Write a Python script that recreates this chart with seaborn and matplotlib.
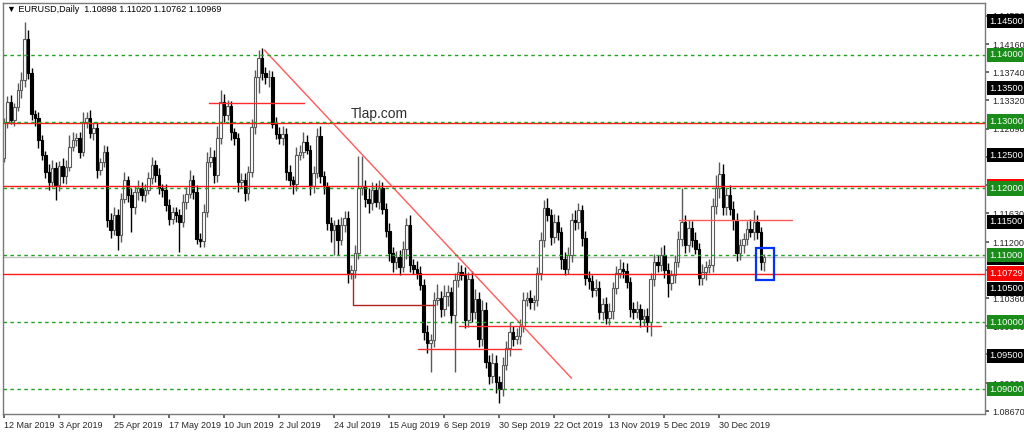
import matplotlib
matplotlib.use("Agg")
import matplotlib.pyplot as plt
import matplotlib.transforms as mtransforms
import numpy as np
import pandas as pd
import seaborn as sns

# daily closes, 12 Mar 2019 onwards
closes = [
    1.1300, 1.1330, 1.1302, 1.1322, 1.1347, 1.1362, 1.1424, 1.1372, 1.1312, 1.1305,
    1.1272, 1.1250, 1.1225, 1.1210, 1.1230, 1.1205, 1.1233, 1.1218, 1.1232, 1.1262,
    1.1272, 1.1275, 1.1255, 1.1300, 1.1305, 1.1283, 1.1290, 1.1228, 1.1240, 1.1255,
    1.1153, 1.1138, 1.1160, 1.1130, 1.1185, 1.1213, 1.1190, 1.1172, 1.1195, 1.1200,
    1.1190, 1.1198, 1.1215, 1.1235, 1.1220, 1.1200, 1.1198, 1.1175, 1.1155, 1.1165,
    1.1160, 1.1150, 1.1180, 1.1192, 1.1212, 1.1195, 1.1125, 1.1122, 1.1165, 1.1240,
    1.1247, 1.1220, 1.1275, 1.1330, 1.1310, 1.1323, 1.1285, 1.1275, 1.1210, 1.1213,
    1.1193, 1.1225, 1.1292, 1.1367, 1.1395, 1.1372, 1.1366, 1.1367, 1.1297, 1.1282,
    1.1275, 1.1282, 1.1225, 1.1213, 1.1207, 1.1250, 1.1255, 1.1270, 1.1257, 1.1203,
    1.1223, 1.1278, 1.1218, 1.1204, 1.1148, 1.1138, 1.1145, 1.1123, 1.1145, 1.1156,
    1.1074, 1.1078, 1.1103, 1.1200, 1.1203, 1.1185, 1.1178, 1.1198, 1.1180, 1.1200,
    1.1170, 1.1137, 1.1103, 1.1090, 1.1098, 1.1083, 1.1110, 1.1146, 1.1085, 1.1080,
    1.1074, 1.1056, 1.0986, 1.0969, 1.0973, 1.1034, 1.1037, 1.1020, 1.1040, 1.1045,
    1.1011, 1.1063, 1.1075, 1.1071, 1.1003, 1.1065, 1.1015, 1.1035, 1.0975, 1.1018,
    1.0941, 1.0919, 1.0939, 1.0910, 1.0900, 1.0936, 1.0962, 1.0985, 1.0975, 1.0980,
    1.0995, 1.1033, 1.1036, 1.1030, 1.1033, 1.1073, 1.1123, 1.1171, 1.1160, 1.1128,
    1.1150, 1.1135, 1.1095, 1.1080, 1.1100, 1.1153, 1.1150, 1.1168, 1.1126, 1.1066,
    1.1062, 1.1048, 1.1052, 1.1015, 1.1028, 1.1006, 1.1017, 1.1052, 1.1074, 1.1080,
    1.1076, 1.1060, 1.1020, 1.1015, 1.1020, 1.1005, 1.1010, 1.1000, 1.1064, 1.1090,
    1.1085, 1.1100, 1.1078, 1.1059, 1.1070, 1.1090, 1.1124, 1.1150, 1.1115, 1.1141,
    1.1123, 1.1110, 1.1066, 1.1075, 1.1082, 1.1085, 1.1174, 1.1201, 1.1222, 1.1172,
    1.1190, 1.1170, 1.1153, 1.1103, 1.1115, 1.1125, 1.1140, 1.1135, 1.1150, 1.1135,
    1.1090, 1.10969,
]
first_open = 1.1245

# wick lengths above / below the body, in pips
upper_wick = [
    5, 8, 10, 6, 10, 12, 25, 13, 8, 6,
    10, 8, 6, 12, 12, 10, 8, 12, 10, 18,
    12, 8, 10, 15, 10, 12, 8, 10, 6, 10,
    8, 10, 12, 10, 8, 12, 6, 10, 8, 12,
    10, 8, 10, 12, 8, 10, 6, 8, 10, 8,
    8, 10, 12, 10, 15, 8, 10, 8, 12, 15,
    15, 10, 18, 17, 12, 10, 8, 6, 8, 10,
    10, 8, 12, 10, 12, 15, 10, 10, 8, 10,
    10, 12, 8, 10, 6, 12, 10, 15, 10, 8,
    10, 12, 15, 8, 6, 10, 8, 10, 12, 10,
    10, 8, 12, 48, 45, 10, 15, 12, 10, 12,
    10, 8, 12, 10, 8, 10, 12, 10, 15, 10,
    12, 10, 8, 10, 10, 12, 20, 10, 15, 10,
    8, 10, 15, 10, 12, 10, 12, 15, 10, 15,
    12, 10, 15, 12, 10, 12, 10, 15, 10, 12,
    10, 12, 10, 12, 8, 10, 12, 12, 15, 10,
    12, 10, 8, 10, 12, 10, 15, 10, 8, 10,
    10, 8, 12, 10, 8, 10, 12, 8, 10, 15,
    10, 12, 8, 10, 12, 8, 10, 12, 10, 12,
    10, 12, 15, 10, 8, 10, 12, 50, 10, 12,
    10, 12, 8, 12, 10, 10, 12, 19, 17, 15,
    10, 15, 12, 10, 10, 8, 12, 15, 18, 10,
    8, 5,
]
lower_wick = [
    5, 10, 6, 8, 6, 12, 10, 8, 10, 12,
    12, 8, 10, 12, 8, 22, 8, 10, 12, 6,
    6, 8, 10, 6, 10, 8, 10, 12, 8, 8,
    10, 12, 8, 22, 10, 6, 10, 37, 10, 12,
    8, 10, 6, 8, 10, 8, 10, 8, 10, 8,
    10, 45, 8, 10, 6, 10, 8, 10, 10, 8,
    8, 12, 10, 8, 10, 8, 12, 10, 15, 10,
    12, 10, 8, 10, 24, 10, 10, 15, 6, 8,
    8, 10, 12, 10, 15, 10, 8, 10, 6, 12,
    10, 8, 10, 12, 10, 18, 38, 22, 8, 10,
    15, 10, 12, 8, 10, 12, 15, 10, 8, 10,
    8, 10, 12, 15, 10, 12, 8, 15, 10, 8,
    10, 8, 12, 15, 44, 10, 8, 12, 10, 15,
    12, 85, 10, 8, 12, 10, 15, 10, 12, 10,
    10, 12, 10, 15, 21, 10, 8, 12, 10, 8,
    12, 10, 8, 10, 12, 8, 10, 10, 8, 12,
    10, 12, 15, 10, 8, 10, 12, 10, 12, 10,
    12, 10, 8, 10, 12, 8, 10, 12, 10, 8,
    10, 8, 12, 10, 8, 12, 10, 15, 20, 10,
    10, 8, 12, 21, 10, 12, 8, 10, 12, 10,
    10, 8, 11, 10, 12, 8, 10, 12, 15, 12,
    12, 10, 15, 12, 10, 12, 10, 8, 12, 10,
    12, 14,
]

date_positions = [0, 16, 32, 48, 64, 80, 96, 112, 128, 144, 160, 176, 192, 208]
date_labels = ["12 Mar 2019", "3 Apr 2019", "25 Apr 2019", "17 May 2019", "10 Jun 2019",
               "2 Jul 2019", "24 Jul 2019", "15 Aug 2019", "6 Sep 2019", "30 Sep 2019",
               "22 Oct 2019", "13 Nov 2019", "5 Dec 2019", "30 Dec 2019"]

price_ticks = [1.14580, 1.14160, 1.13740, 1.13320, 1.12890, 1.12470, 1.12050, 1.11630,
               1.11200, 1.10780, 1.10360, 1.09940, 1.09520, 1.09090, 1.08670]

green_levels = [1.14, 1.13, 1.12, 1.11, 1.10, 1.09]
red_levels = [1.12985, 1.12033, 1.10729]
current_price = 1.10969

# right-hand price tags: (value, background)
price_tags = [(1.14500, "black"), (1.14000, "#1a8c1a"), (1.13500, "black"),
              (1.13000, "#1a8c1a"), (1.12500, "black"), (1.12033, "red"),
              (1.12000, "#1a8c1a"), (1.11500, "black"), (1.10969, "black"),
              (1.11000, "#1a8c1a"), (1.10729, "red"), (1.10500, "black"),
              (1.10000, "#1a8c1a"), (1.09500, "black"), (1.09000, "#1a8c1a")]

df = pd.DataFrame({"close": closes})
df["open"] = [first_open] + closes[:-1]
df["high"] = df[["open", "close"]].max(axis=1) + np.array(upper_wick) / 10000
df["low"] = df[["open", "close"]].min(axis=1) - np.array(lower_wick) / 10000
df["x"] = np.arange(len(df))
df["bull"] = df["close"] >= df["open"]

sns.set_theme(style="white")
plt.rcParams["font.family"] = ["Liberation Sans", "DejaVu Sans"]

fig = plt.figure(figsize=(10.24, 4.32), dpi=100)
ax = fig.add_axes([3 / 1024, 18 / 432, 982 / 1024, 411 / 432])

# level lines
ax.axhline(current_price, color="#c4c4c4", lw=1, zorder=1)
for lv in red_levels:
    ax.axhline(lv, color="#ff1a1a", lw=1, zorder=3)
for lv in green_levels:
    ax.axhline(lv, color="#22a022", lw=1, ls=(0, (2.5, 2.5)), zorder=4)

# candles
up = df[df["bull"]]
dn = df[~df["bull"]]
ax.vlines(up["x"], up["low"], up["high"], color="#5a5a5a", lw=1.0, zorder=2)
ax.vlines(dn["x"], dn["low"], dn["high"], color="black", lw=1.0, zorder=2)
body = (df["close"] - df["open"]).abs().clip(lower=0.00004)
bottom = df[["open", "close"]].min(axis=1)
ax.bar(up["x"], body[df["bull"]], bottom=bottom[df["bull"]], width=0.72,
       color="white", edgecolor="#5a5a5a", linewidth=0.8, zorder=2)
ax.bar(dn["x"], body[~df["bull"]], bottom=bottom[~df["bull"]], width=0.72,
       color="black", edgecolor="black", linewidth=0.8, zorder=2)

# drawn objects
ax.plot([75.7, 165.0], [1.14070, 1.09163], color="#ff5a5a", lw=1, zorder=3)
ax.plot([59.6, 87.2], [1.13277, 1.13277], color="#ff2a2a", lw=1, zorder=3)
ax.plot([196.2, 229.1], [1.11534, 1.11534], color="#ff5a5a", lw=1, zorder=3)
ax.plot([132.3, 191.0], [1.09945, 1.09945], color="#ff2a2a", lw=1, zorder=3)
ax.plot([120.3, 150.3], [1.09596, 1.09596], color="#ff2a2a", lw=1, zorder=3)
ax.plot([101.5, 101.5, 125.3], [1.10732, 1.10258, 1.10258], color="#b22222", lw=1, zorder=3)
ax.add_patch(plt.Rectangle((218.5, 1.10632), 5.5, 0.00474, fill=False,
                           edgecolor="#0033ff", lw=1.6, zorder=5))
ax.text(100.9, 1.13114, "Tlap.com", fontsize=10, color="#303030", va="center", zorder=6)

ax.set_xlim(-0.3, 285.2)
ax.set_ylim(1.08629, 1.14773)

ax.set_xticks(date_positions)
ax.set_xticklabels(date_labels, fontsize=6.5, ha="left")
ax.yaxis.tick_right()
ax.set_yticks(price_ticks)
ax.set_yticklabels([f"{v:.5f}" for v in price_ticks], fontsize=6.5)
ax.tick_params(axis="x", length=3, pad=2, direction="out", color="#555555", bottom=True)
ax.tick_params(axis="y", length=3, pad=2, direction="out", color="#555555", right=True)
for s in ax.spines.values():
    s.set_color("#7a7a7a")
    s.set_linewidth(1)

trans = mtransforms.blended_transform_factory(ax.transAxes, ax.transData)
for val, bg in price_tags:
    ax.text(1.0045, val, f"{val:.5f}", transform=trans, ha="left", va="center",
            fontsize=6.7, color="white", clip_on=False, zorder=10,
            bbox=dict(boxstyle="square,pad=0.28", fc=bg, ec="none"))

fig.text(7 / 1024, 1 - 9 / 432, "\u25bc EURUSD,Daily  1.10898 1.11020 1.10762 1.10969",
         fontsize=6.5, va="center", ha="left", color="black")

fig.savefig("out.png", dpi=100)
